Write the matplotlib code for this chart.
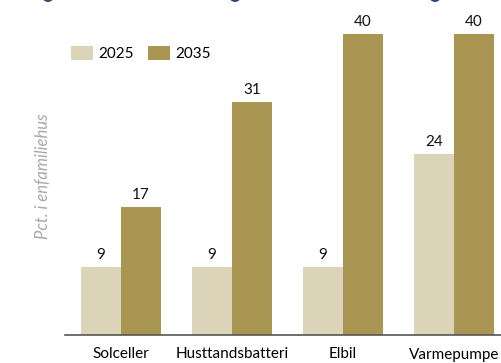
import matplotlib
matplotlib.use("Agg")
import matplotlib.pyplot as plt
from matplotlib.patches import Ellipse
import numpy as np

plt.rcParams['font.family'] = ['Lato', 'DejaVu Sans']

categories = ['Solceller', 'Husttandsbatteri', 'Elbil', 'Varmepumpe']
years = ['2025', '2035']
share_2025 = [9, 9, 9, 24]
share_2035 = [17, 31, 40, 40]
colors = ['#dbd4b8', '#a99653']

W, H = 502, 363
fig = plt.figure(figsize=(W / 100, H / 100), dpi=100)
ax = fig.add_axes([65 / W, (H - 335) / H, (W - 65) / W, 335 / H])

x = np.arange(len(categories))
bw = 0.36
b1 = ax.bar(x - bw / 2, share_2025, bw, color=colors[0], label=years[0])
b2 = ax.bar(x + bw / 2, share_2035, bw, color=colors[1], label=years[1])

for bars, vals in ((b1, share_2025), (b2, share_2035)):
    for rect, v in zip(bars, vals):
        ax.annotate(str(v), (rect.get_x() + rect.get_width() / 2, v),
                    xytext=(0, 3.5), textcoords='offset points',
                    ha='center', va='bottom', fontsize=11, color='#111111')

ax.set_xlim((65 - 121) / 111, (W - 121) / 111)
ax.set_ylim(0, 335 / 7.53)
ax.set_xticks(x)
ax.set_xticklabels(categories, fontsize=11)
ax.tick_params(axis='x', length=0, pad=9)
ax.set_yticks([])
for s in ['top', 'right', 'left']:
    ax.spines[s].set_visible(False)
ax.spines['bottom'].set_color('#555555')
ax.spines['bottom'].set_linewidth(1.2)

ax.legend(loc='upper left', bbox_to_anchor=(6 / 437, 1 - 46 / 335), ncol=2, frameon=False,
          fontsize=11, handlelength=1.45, handleheight=1.05, columnspacing=0.9,
          handletextpad=0.35, borderpad=0, borderaxespad=0)

fig.text(43 / W, 1 - 176 / H, 'Pct. i enfamiliehus', rotation=90, style='italic',
         color='#a8a8a8', fontsize=12, ha='center', va='center')

# markers peeking in from the row above
for cx in (48, 235, 435):
    fig.patches.append(Ellipse((cx / W, 1 + 4 / H), 12 / W, 12 / H, transform=fig.transFigure,
                               facecolor='#2d4a7a', edgecolor='none'))

fig.savefig('out.png', dpi=100)
